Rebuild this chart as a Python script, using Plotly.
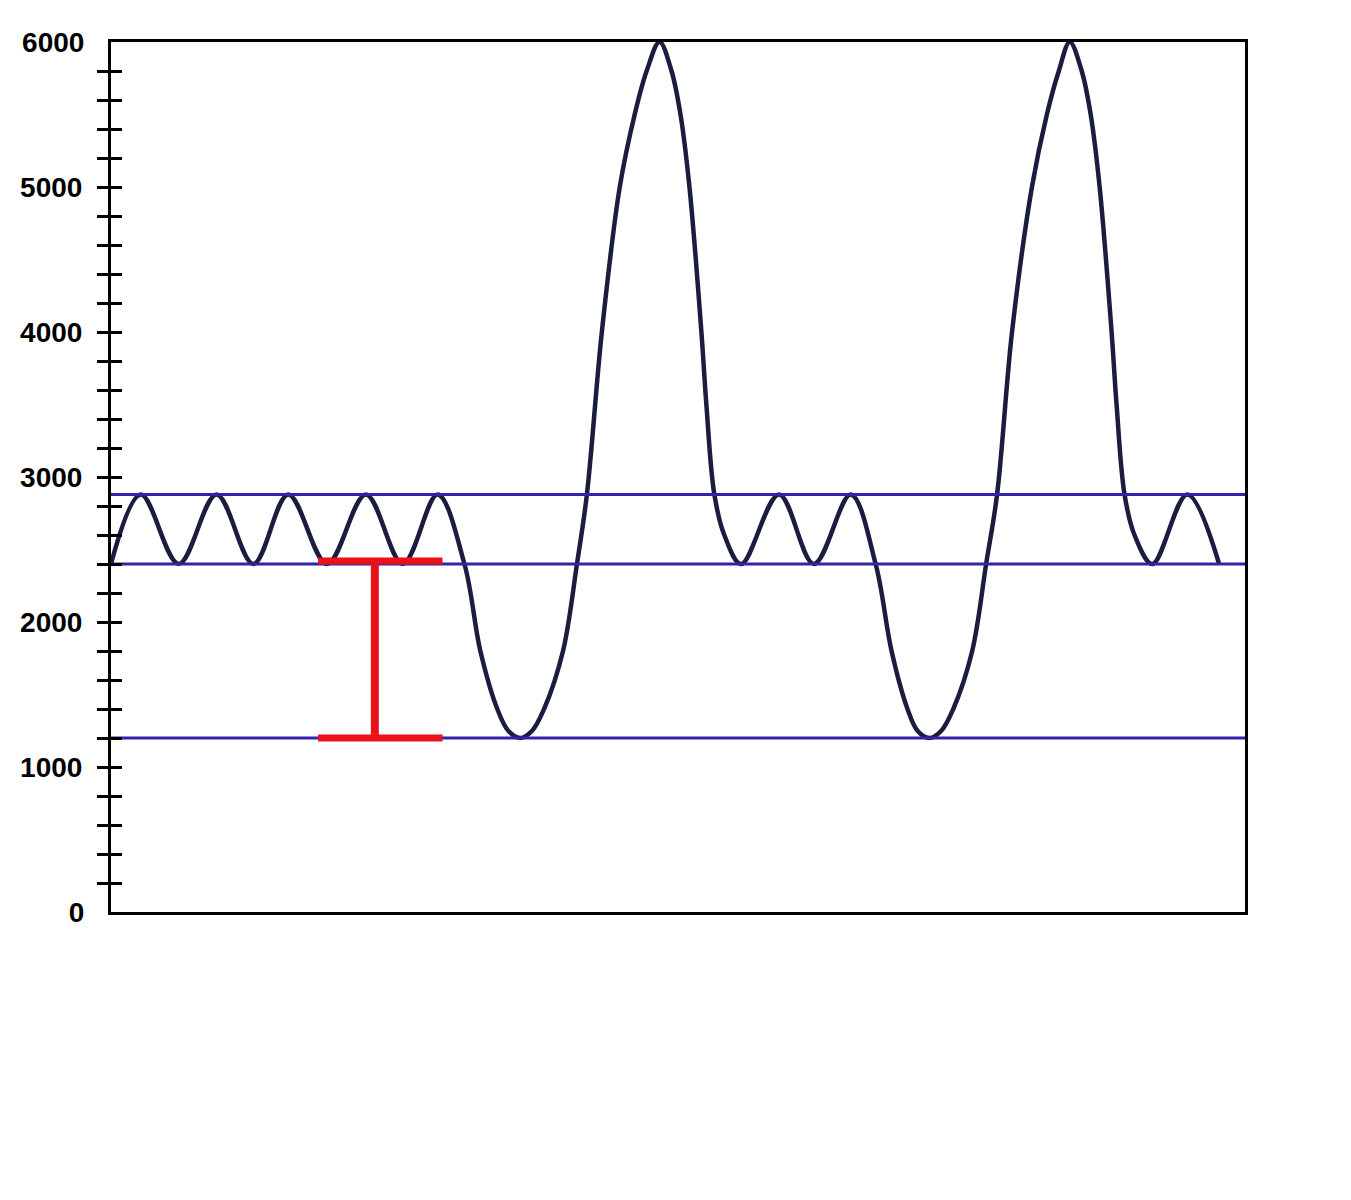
import plotly.graph_objects as go

# Lung volume trace (mL); x is elapsed time in arbitrary units
time = [0, 30, 68, 106, 143, 178, 217, 256, 293, 328,
        355, 371, 388, 399, 411, 423, 435, 454, 468, 478, 493, 511, 526, 538, 551,
        563, 572, 581, 593, 598, 606, 616, 633, 671, 706, 743,
        768, 784, 800, 810, 822, 834, 846, 865, 879, 890, 905, 925, 940, 952, 963,
        975, 984, 993, 1005, 1010, 1018, 1028, 1046, 1081, 1113]
volume = [2400, 2880, 2400, 2880, 2400, 2880, 2400, 2880, 2400, 2880,
          2400, 1800, 1400, 1250, 1200, 1250, 1400, 1800, 2400, 2880, 4000, 5000, 5500, 5800, 6000,
          5800, 5500, 5000, 4000, 3500, 2880, 2600, 2400, 2880, 2400, 2880,
          2400, 1800, 1400, 1250, 1200, 1250, 1400, 1800, 2400, 2880, 4000, 5000, 5500, 5800, 6000,
          5800, 5500, 5000, 4000, 3500, 2880, 2600, 2400, 2880, 2400]

# Reference levels (mL)
levels = [2880, 2400, 1200]
x_span = [0, 1139]

# Red bracket (expiratory reserve volume)
bracket_x = [208, 333]
bracket_mid = 265
bracket_top = 2420
bracket_bottom = 1200

# Y axis ticks
minor_vals = [v for v in range(200, 6000, 200)]
minor_text = [str(v) if v % 1000 == 0 else "" for v in minor_vals]
end_vals = [0, 6000]
end_text = ["0", "6000"]

fig = go.Figure()

for lv in levels:
    fig.add_trace(go.Scatter(x=x_span, y=[lv, lv], mode="lines",
                             line=dict(color="#3322aa", width=3),
                             yaxis="y2", hoverinfo="skip", showlegend=False))

fig.add_trace(go.Scatter(x=time, y=volume, mode="lines",
                         line=dict(color="#1b1d40", width=4.5, shape="spline", smoothing=1.0),
                         showlegend=False))

red = dict(color="#e8121a", width=7)
fig.add_trace(go.Scatter(x=bracket_x, y=[bracket_top, bracket_top], mode="lines",
                         line=red, yaxis="y3", showlegend=False))
fig.add_trace(go.Scatter(x=bracket_x, y=[bracket_bottom, bracket_bottom], mode="lines",
                         line=red, yaxis="y3", showlegend=False))
fig.add_trace(go.Scatter(x=[bracket_mid, bracket_mid], y=[bracket_top, bracket_bottom], mode="lines",
                         line=dict(color="#e8121a", width=8), yaxis="y3", showlegend=False))

tickfont = dict(family="Liberation Sans, Arial", size=28, color="black", weight="bold")

fig.update_layout(
    width=1351, height=1200,
    margin=dict(l=101, r=114, t=34, b=296),
    paper_bgcolor="white", plot_bgcolor="white",
    xaxis=dict(range=x_span, showgrid=False, zeroline=False, showticklabels=False,
               ticks="", showline=True, linecolor="black", linewidth=3, mirror=True),
    yaxis=dict(range=[0, 6000], showgrid=False, zeroline=False,
               tickmode="array", tickvals=minor_vals, ticktext=minor_text,
               ticks="outside", ticklen=11, tickwidth=2.5, tickcolor="black",
               tickfont=tickfont, ticklabelstandoff=9,
               showline=True, linecolor="black", linewidth=3, mirror=True),
    yaxis2=dict(range=[0, 6000], overlaying="y", side="left", anchor="x",
                showgrid=False, zeroline=False, showline=False,
                tickmode="array", tickvals=minor_vals, ticktext=["" for _ in minor_vals],
                ticks="inside", ticklen=11, tickwidth=2.5, tickcolor="black"),
    yaxis3=dict(range=[0, 6000], overlaying="y", side="left", anchor="x",
                showgrid=False, zeroline=False, showline=False,
                tickmode="array", tickvals=end_vals, ticktext=end_text,
                ticks="outside", ticklen=11, tickcolor="rgba(0,0,0,0)",
                tickfont=tickfont, ticklabelstandoff=9),
)

fig.write_html("out.html")
